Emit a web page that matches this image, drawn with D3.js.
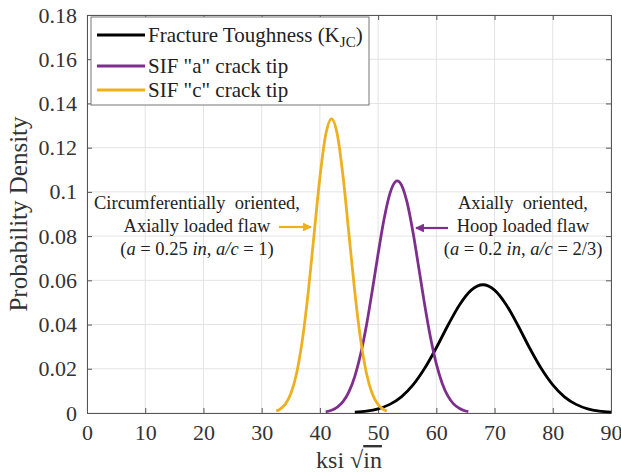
<!DOCTYPE html>
<html>
<head>
<meta charset="utf-8">
<script src="https://cdn.jsdelivr.net/npm/d3@7"></script>
<style>
  body { margin: 0; background: #fff; }
  svg { font-family: "Liberation Serif", "Times New Roman", serif; }
</style>
</head>
<body>
<div id="chart"></div>
<script>
// values
const xTicks = [0, 10, 20, 30, 40, 50, 60, 70, 80, 90]
const yTicks = [0, 0.02, 0.04, 0.06, 0.08, 0.1, 0.12, 0.14, 0.16, 0.18]

const kjcX = [46, 48, 50, 52, 54, 56, 58, 60, 62, 64, 66, 68, 70, 72, 74, 76, 78, 80, 82, 84, 86, 88, 90]
const kjcY = [0.00035, 0.00085, 0.0019, 0.0039, 0.0073, 0.0127, 0.0202, 0.0295, 0.0397, 0.049, 0.0556, 0.058,
              0.0556, 0.049, 0.0397, 0.0295, 0.0202, 0.0127, 0.0073, 0.0039, 0.0019, 0.00085, 0.00035]

const sifAX = [41, 42, 43, 44, 45, 46, 47, 48, 49, 50, 51, 52, 53, 53.3, 54, 55, 56, 57, 58, 59, 60, 61, 62, 63, 64, 65, 65.5]
const sifAY = [0.00056, 0.00126, 0.00266, 0.00525, 0.0097, 0.0166, 0.0266, 0.0397, 0.0554, 0.072, 0.0874, 0.099, 0.1047, 0.105,
               0.1032, 0.095, 0.0816, 0.0654, 0.0489, 0.0341, 0.0222, 0.0135, 0.0076, 0.004, 0.002, 0.0009, 0.0006]

const sifCX = [32.5, 33, 34, 35, 36, 37, 38, 39, 40, 41, 42, 43, 44, 45, 46, 47, 48, 49, 50, 51, 51.5]
const sifCY = [0.0009, 0.0015, 0.0038, 0.0087, 0.018, 0.0332, 0.0547, 0.0807, 0.1065, 0.1258, 0.133,
               0.1258, 0.1065, 0.0807, 0.0547, 0.0332, 0.018, 0.0087, 0.0038, 0.0015, 0.0009]

const seriesNames = ["Fracture Toughness", "SIF \"a\" crack tip", "SIF \"c\" crack tip"]
const colors = ["#000000", "#7E2F8E", "#EDB120"]

const width = 621, height = 476
const margin = {top: 15, right: 10, bottom: 63, left: 87}

const svg = d3.select("#chart").append("svg")
    .attr("width", width)
    .attr("height", height)

const x = d3.scaleLinear().domain([0, 90]).range([margin.left, width - margin.right])
const y = d3.scaleLinear().domain([0, 0.18]).range([height - margin.bottom, margin.top])

const fmt = d => String(+d.toFixed(2))

// grid
svg.append("g")
  .selectAll("line.gx")
  .data(xTicks)
  .join("line")
    .attr("x1", d => x(d)).attr("x2", d => x(d))
    .attr("y1", y(0)).attr("y2", y(0.18))
    .attr("stroke", "#e3e3e3")
svg.append("g")
  .selectAll("line.gy")
  .data(yTicks)
  .join("line")
    .attr("x1", x(0)).attr("x2", x(90))
    .attr("y1", d => y(d)).attr("y2", d => y(d))
    .attr("stroke", "#e3e3e3")

// axes (ticks inward, MATLAB style)
const axisColor = "#555"
const xAxis = svg.append("g")
    .attr("transform", `translate(0,${y(0)})`)
    .call(d3.axisBottom(x).tickValues(xTicks).tickFormat(d => d).tickSizeInner(-5).tickSizeOuter(0).tickPadding(11))
const xAxisTop = svg.append("g")
    .attr("transform", `translate(0,${y(0.18)})`)
    .call(d3.axisTop(x).tickValues(xTicks).tickFormat("").tickSizeInner(-5).tickSizeOuter(0))
const yAxis = svg.append("g")
    .attr("transform", `translate(${x(0)},0)`)
    .call(d3.axisLeft(y).tickValues(yTicks).tickFormat(fmt).tickSizeInner(-5).tickSizeOuter(0).tickPadding(10))
const yAxisRight = svg.append("g")
    .attr("transform", `translate(${x(90)},0)`)
    .call(d3.axisRight(y).tickValues(yTicks).tickFormat("").tickSizeInner(-5).tickSizeOuter(0))

;[xAxis, xAxisTop, yAxis, yAxisRight].forEach(g => {
  g.select(".domain").attr("stroke", axisColor)
  g.selectAll(".tick line").attr("stroke", axisColor)
  g.selectAll(".tick text")
    .attr("fill", "#333")
    .attr("font-size", 22)
    .attr("font-family", "Liberation Serif, serif")
})

// curves
const line = d3.line()
    .x(d => x(d[0]))
    .y(d => y(d[1]))
    .curve(d3.curveMonotoneX)

const curves = [
  d3.zip(kjcX, kjcY),
  d3.zip(sifAX, sifAY),
  d3.zip(sifCX, sifCY)
]

curves.forEach((c, i) => {
  svg.append("path")
    .datum(c)
    .attr("d", line)
    .attr("fill", "none")
    .attr("stroke", colors[i])
    .attr("stroke-width", 2.8)
})

// axis labels
svg.append("text")
    .attr("transform", `translate(27,${(y(0) + y(0.18)) / 2}) rotate(-90)`)
    .attr("text-anchor", "middle")
    .attr("font-size", 25)
    .attr("fill", "#333")
    .text("Probability Density")

const xl = svg.append("text")
    .attr("x", (x(0) + x(90)) / 2)
    .attr("y", 468)
    .attr("text-anchor", "middle")
    .attr("font-size", 24)
    .attr("fill", "#333")
xl.append("tspan").text("ksi \u221A")
xl.append("tspan").attr("text-decoration", "overline").text("in")

// legend
const lg = svg.append("g")
lg.append("rect")
    .attr("x", 91).attr("y", 17)
    .attr("width", 278).attr("height", 88)
    .attr("fill", "#fff")
    .attr("stroke", "#777")
const rowsY = [35, 66, 90]
seriesNames.forEach((name, i) => {
  lg.append("line")
    .attr("x1", 97).attr("x2", 145)
    .attr("y1", rowsY[i]).attr("y2", rowsY[i])
    .attr("stroke", colors[i])
    .attr("stroke-width", 2.8)
  const t = lg.append("text")
    .attr("x", 148).attr("y", rowsY[i] + 7)
    .attr("font-size", 21)
    .attr("fill", "#222")
  t.append("tspan").text(name)
  if (i === 0) {
    t.append("tspan").text(" (K")
    t.append("tspan").attr("font-size", 15).attr("dy", 5).text("JC")
    t.append("tspan").attr("dy", -5).text(")")
  }
})

// annotations
function noteText(cx, lines, last) {
  const g = svg.append("g").attr("font-size", 18.5).attr("fill", "#222").attr("text-anchor", "middle")
  lines.forEach((l, i) => {
    g.append("text").attr("x", cx).attr("y", 209 + i * 23).attr("xml:space", "preserve").text(l)
  })
  const t = g.append("text").attr("x", cx).attr("y", 255)
  last.forEach(p => {
    const s = t.append("tspan").text(p[0])
    if (p[1]) s.attr("font-style", "italic")
  })
}
noteText(197, ["Circumferentially  oriented,", "Axially loaded flaw"],
  [["("], ["a", 1], [" = 0.25 "], ["in", 1], [", "], ["a/c", 1], [" = 1)"]])
noteText(523, ["Axially  oriented,", "Hoop loaded flaw"],
  [["("], ["a", 1], [" = 0.2 "], ["in", 1], [", "], ["a/c", 1], [" = 2/3)"]])

// arrows
const defs = svg.append("defs")
colors.slice(1).forEach((c, i) => {
  defs.append("marker")
    .attr("id", "arr" + i)
    .attr("viewBox", "0 0 10 10")
    .attr("refX", 9).attr("refY", 5)
    .attr("markerWidth", 4).attr("markerHeight", 4)
    .attr("orient", "auto")
    .append("path").attr("d", "M0,0L10,5L0,10z").attr("fill", c)
})
svg.append("line")
    .attr("x1", 279).attr("x2", 311).attr("y1", 227).attr("y2", 227)
    .attr("stroke", colors[2]).attr("stroke-width", 2.2)
    .attr("marker-end", "url(#arr1)")
svg.append("line")
    .attr("x1", 448).attr("x2", 416).attr("y1", 228).attr("y2", 228)
    .attr("stroke", colors[1]).attr("stroke-width", 2.2)
    .attr("marker-end", "url(#arr0)")
</script>
</body>
</html>
